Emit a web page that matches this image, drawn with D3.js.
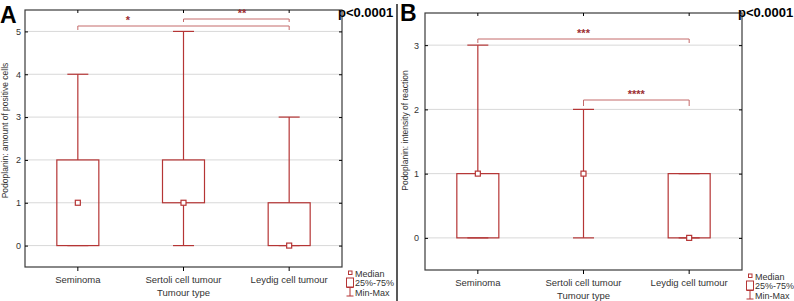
<!DOCTYPE html>
<html>
<head>
<meta charset="utf-8">
<script src="https://cdn.jsdelivr.net/npm/d3@7"></script>
<style>
  body { margin: 0; background: #fff; }
  svg { display: block; font-family: "Liberation Sans", Arial, sans-serif; }
</style>
</head>
<body>
<svg id="chart" width="794" height="301"></svg>
<script>
const categories = ["Seminoma", "Sertoli cell tumour", "Leydig cell tumour"];

// panel A: amount of positive cells
const minA = [0, 0, 0];
const q1A = [0, 1, 0];
const medianA = [1, 1, 0];
const q3A = [2, 2, 1];
const maxA = [4, 5, 3];
const ticksA = [0, 1, 2, 3, 4, 5];

// panel B: intensity of reaction
const minB = [0, 0, 0];
const q1B = [0, 1, 0];
const medianB = [1, 1, 0];
const q3B = [1, 1, 1];
const maxB = [3, 2, 1];
const ticksB = [0, 1, 2, 3];

const red = "#b53535";
const bracketRed = "#c46a6a";
const starRed = "#9c2f33";

const svg = d3.select("#chart");

function drawPanel(opts) {
    const g = svg.append("g").attr("transform", `translate(${opts.x},${opts.y})`);
    const w = 317, h = 257;

    const x = d3.scaleBand().domain(categories).range([0, w]);
    const y = d3.scaleLinear().domain(opts.domain).range([h, 0]);
    const cx = d => x(d) + x.bandwidth() / 2;

    // grid
    g.selectAll(".grid").data(opts.ticks).enter().append("line")
        .attr("x1", 0).attr("x2", w)
        .attr("y1", d => y(d)).attr("y2", d => y(d))
        .attr("stroke", "#d8d8d8").attr("stroke-width", 1);

    // frame
    g.append("rect").attr("width", w).attr("height", h)
        .attr("fill", "none").attr("stroke", "#3a3a3a").attr("stroke-width", 1.2);

    // y axis, ticks pointing inward on both sides
    g.append("g").call(d3.axisLeft(y).tickValues(opts.ticks).tickSize(-3).tickPadding(opts.tickPad).tickFormat(d3.format("d")))
        .call(a => a.select(".domain").remove())
        .call(a => a.selectAll("text").style("font-size", "9px").attr("fill", "#333"));
    g.append("g").attr("transform", `translate(${w},0)`)
        .call(d3.axisRight(y).tickValues(opts.ticks).tickSize(-3).tickFormat(""))
        .call(a => a.select(".domain").remove());

    // x axis
    g.append("g").attr("transform", `translate(0,${h})`)
        .call(d3.axisBottom(x).tickSize(4).tickPadding(5))
        .call(a => a.select(".domain").remove())
        .call(a => a.selectAll("text").style("font-size", "9.5px").attr("fill", "#333"));
    g.append("g")
        .call(d3.axisTop(x).tickSize(-3).tickFormat(""))
        .call(a => a.select(".domain").remove());

    const rows = categories.map((c, i) => ({
        c, min: opts.min[i], q1: opts.q1[i], med: opts.median[i], q3: opts.q3[i], max: opts.max[i]
    }));

    const boxW = 42, capW = 21;
    const box = g.selectAll(".box").data(rows).enter().append("g");

    // whiskers
    box.append("line")
        .attr("x1", d => cx(d.c)).attr("x2", d => cx(d.c))
        .attr("y1", d => y(d.q3)).attr("y2", d => y(d.max))
        .attr("stroke", red).attr("stroke-width", 1.2);
    box.append("line")
        .attr("x1", d => cx(d.c)).attr("x2", d => cx(d.c))
        .attr("y1", d => y(d.min)).attr("y2", d => y(d.q1))
        .attr("stroke", red).attr("stroke-width", 1.2);
    box.append("line")
        .attr("x1", d => cx(d.c) - capW / 2).attr("x2", d => cx(d.c) + capW / 2)
        .attr("y1", d => y(d.max)).attr("y2", d => y(d.max))
        .attr("stroke", red).attr("stroke-width", 1.2);
    box.append("line")
        .attr("x1", d => cx(d.c) - capW / 2).attr("x2", d => cx(d.c) + capW / 2)
        .attr("y1", d => y(d.min)).attr("y2", d => y(d.min))
        .attr("stroke", red).attr("stroke-width", 1.2);

    // boxes
    box.append("rect")
        .attr("x", d => cx(d.c) - boxW / 2).attr("width", boxW)
        .attr("y", d => y(d.q3)).attr("height", d => y(d.q1) - y(d.q3))
        .attr("fill", "none").attr("stroke", red).attr("stroke-width", 1.2);

    // median
    box.append("rect")
        .attr("x", d => cx(d.c) - 2.5).attr("y", d => y(d.med) - 2.5)
        .attr("width", 5).attr("height", 5)
        .attr("fill", "#fff").attr("stroke", red).attr("stroke-width", 1.2);

    // significance brackets
    opts.brackets.forEach(b => {
        const x1 = cx(categories[b.from]), x2 = cx(categories[b.to]);
        g.append("path")
            .attr("d", `M${x1},${b.y + b.drop}V${b.y}H${x2}V${b.y + b.drop}`)
            .attr("fill", "none").attr("stroke", bracketRed).attr("stroke-width", 1);
        g.append("text")
            .attr("x", b.sx != null ? b.sx : (x1 + x2) / 2).attr("y", b.y - 2)
            .attr("text-anchor", "middle")
            .attr("fill", starRed).style("font-size", "11px").style("font-weight", "bold")
            .text(b.label);
    });

    // y label
    g.append("text")
        .attr("transform", `translate(${-17},${h / 2 - opts.labelUp}) rotate(-90)`)
        .attr("text-anchor", "middle")
        .attr("fill", "#333").style("font-size", "8.5px")
        .text(opts.yLabel);

    // x label
    g.append("text")
        .attr("x", w / 2).attr("y", h + 29)
        .attr("text-anchor", "middle")
        .attr("fill", "#333").style("font-size", "9.5px")
        .text("Tumour type");

    // panel letter
    g.append("text")
        .attr("x", -25).attr("y", opts.letterY)
        .style("font-size", "23px").style("font-weight", "bold")
        .text(opts.letter);

    // p value
    g.append("text")
        .attr("x", w - 4).attr("y", opts.pY)
        .style("font-size", "13px").style("font-weight", "bold")
        .text("p<0.0001");

    // legend
    const lg = g.append("g").attr("transform", `translate(${w},${h})`);
    lg.append("rect").attr("x", 6.5).attr("y", 4).attr("width", 3.5).attr("height", 3.5)
        .attr("fill", "#fff").attr("stroke", red).attr("stroke-width", 1);
    lg.append("rect").attr("x", 4.5).attr("y", 11).attr("width", 7).attr("height", 9)
        .attr("fill", "none").attr("stroke", red).attr("stroke-width", 1);
    lg.append("path").attr("d", "M4.5,20.5H11.5M8,20.5V29M4.5,29H11.5")
        .attr("fill", "none").attr("stroke", red).attr("stroke-width", 1);
    lg.selectAll(".lt").data(["Median", "25%-75%", "Min-Max"]).enter().append("text")
        .attr("x", 13).attr("y", (d, i) => 9.5 + i * 9.7)
        .attr("fill", "#333").style("font-size", "9px")
        .text(d => d);
}

drawPanel({
    x: 25, y: 10, domain: [-0.5, 5.5], ticks: ticksA,
    min: minA, q1: q1A, median: medianA, q3: q3A, max: maxA,
    yLabel: "Podoplanin: amount of positive cells",
    letter: "A", letterY: 13, pY: 7, labelUp: 8, tickPad: 4,
    brackets: [
        { from: 0, to: 2, y: 16, drop: 4, label: "*", sx: 103 },
        { from: 1, to: 2, y: 9, drop: 3, label: "**", sx: 217 }
    ]
});

drawPanel({
    x: 425, y: 13, domain: [-0.5, 3.5], ticks: ticksB,
    min: minB, q1: q1B, median: medianB, q3: q3B, max: maxB,
    yLabel: "Podoplanin: intensity of reaction",
    letter: "B", letterY: 8, pY: 4, labelUp: 11, tickPad: 6,
    brackets: [
        { from: 0, to: 2, y: 26, drop: 4, label: "***" },
        { from: 1, to: 2, y: 87, drop: 6, label: "****" }
    ]
});

// separator between panels
svg.append("line")
    .attr("x1", 397).attr("x2", 397).attr("y1", 4).attr("y2", 301)
    .attr("stroke", "#222").attr("stroke-width", 1.5);
</script>
</body>
</html>
